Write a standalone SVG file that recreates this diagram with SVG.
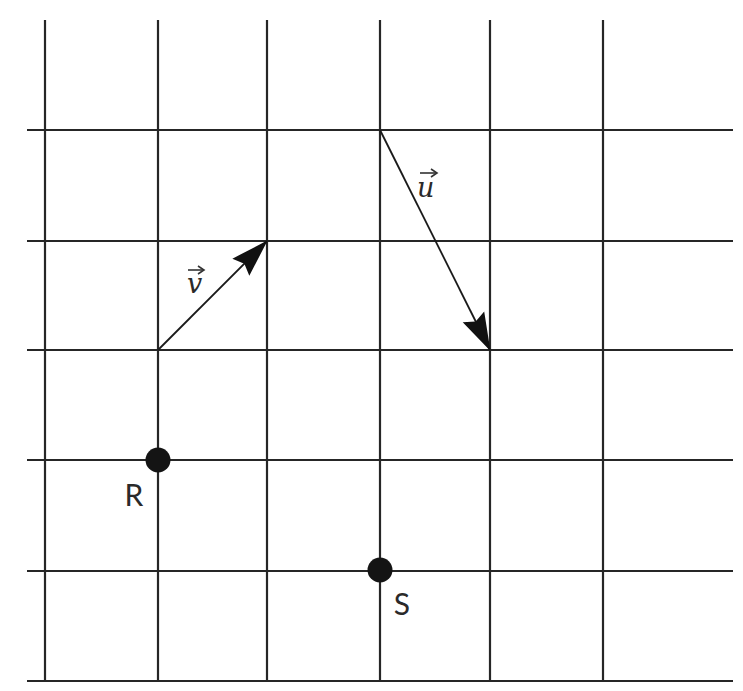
<svg xmlns="http://www.w3.org/2000/svg" width="743" height="691" viewBox="0 0 743 691">
  <style>
    .grid line { stroke: #262626; stroke-width: 2.2; }
    .vec { stroke: #1a1a1a; stroke-width: 1.8; fill: none; }
    .pt { fill: #141414; }
    .lbl { font-family: Lato, "Open Sans", "Liberation Sans", sans-serif; font-size: 30px; fill: #2a2a2a; }
    .vl { font-family: "DejaVu Serif", "Liberation Serif", serif; font-style: italic; font-size: 27px; fill: #2a2a2a; }
    .oa { stroke: #333; stroke-width: 1.6; fill: none; }
  </style>
  <defs>
    <marker id="ah" markerUnits="userSpaceOnUse" markerWidth="38" markerHeight="26" viewBox="0 0 38 26" refX="37" refY="13" orient="auto">
      <path d="M0,1 L38,13 L0,25 L5,13 Z" fill="#111"/>
    </marker>
  </defs>
  <rect width="743" height="691" fill="#ffffff"/>
  <g id="grid" class="grid">
    <line x1="45" y1="20" x2="45" y2="681"/>
    <line x1="158" y1="20" x2="158" y2="681"/>
    <line x1="267" y1="20" x2="267" y2="681"/>
    <line x1="380" y1="20" x2="380" y2="681"/>
    <line x1="490" y1="20" x2="490" y2="681"/>
    <line x1="603" y1="20" x2="603" y2="681"/>
    <line x1="27" y1="130" x2="733" y2="130"/>
    <line x1="27" y1="241" x2="733" y2="241"/>
    <line x1="27" y1="350" x2="733" y2="350"/>
    <line x1="27" y1="460" x2="733" y2="460"/>
    <line x1="27" y1="571" x2="733" y2="571"/>
    <line x1="27" y1="681" x2="733" y2="681"/>
  </g>
  <g id="connectors">
    <line id="vec-v" class="vec" x1="158" y1="350" x2="267" y2="241" marker-end="url(#ah)"/>
    <line id="vec-u" class="vec" x1="380" y1="130" x2="490" y2="350" marker-end="url(#ah)"/>
  </g>
  <g id="label-v">
    <text class="vl" x="187" y="293">v</text>
    <line class="oa" x1="188" y1="270" x2="203" y2="270"/>
    <path d="M198,266 L204,270 L198,274" class="oa"/>
  </g>
  <g id="label-u">
    <text class="vl" x="417" y="197">u</text>
    <line class="oa" x1="420" y1="173" x2="436" y2="173"/>
    <path d="M431,169 L437,173 L431,177" class="oa"/>
  </g>
  <g id="node-R">
    <circle class="pt" cx="158" cy="460" r="12.5"/>
    <text class="lbl" x="134" y="506" text-anchor="middle">R</text>
  </g>
  <g id="node-S">
    <circle class="pt" cx="380" cy="570" r="12.5"/>
    <text class="lbl" x="402" y="615" text-anchor="middle">S</text>
  </g>
</svg>
